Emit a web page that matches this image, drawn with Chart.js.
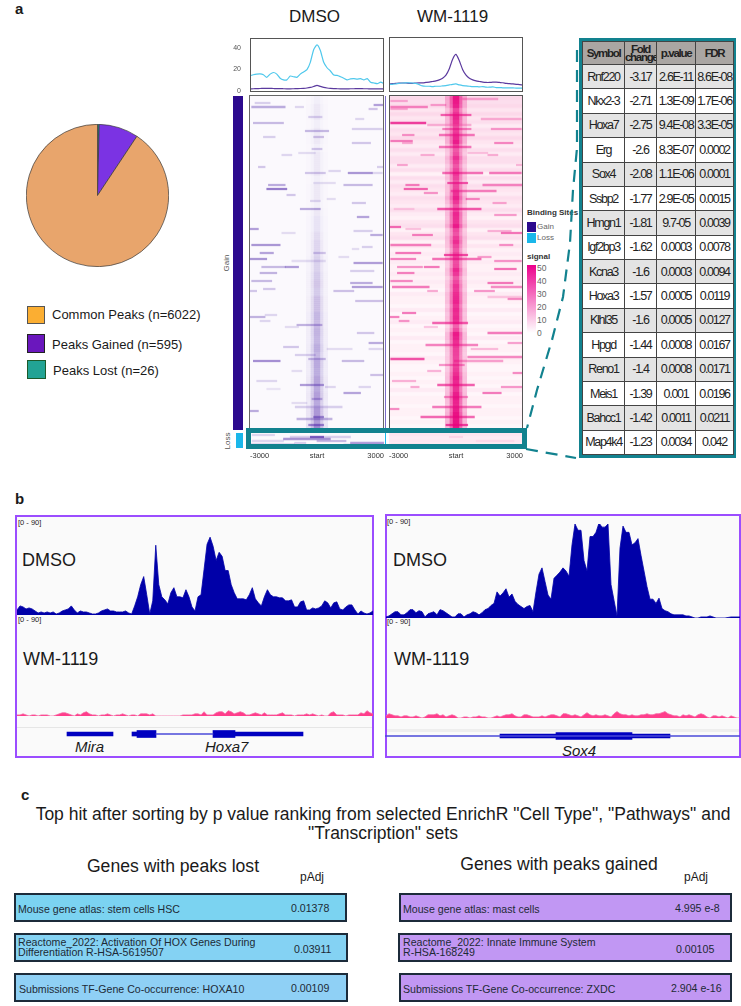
<!DOCTYPE html>
<html>
<head>
<meta charset="utf-8">
<script src="https://cdn.jsdelivr.net/npm/chart.js@4"></script>
<style>
  html, body { margin: 0; background: #fff; }
  #page { position: relative; width: 741px; height: 1006px; overflow: hidden; font-family: "Liberation Sans", Arial, sans-serif; color: #1a1a1a; }
  #page canvas { position: absolute; }
  .t { position: absolute; white-space: nowrap; line-height: 1; transform: translateY(-50%); }
  .c { transform: translate(-50%, -50%); }
  .box { position: absolute; box-sizing: border-box; }
  .rot { transform: translate(-50%, -50%) rotate(-90deg); color: #555; font-size: 8px; }
  .igv { border: 2px solid #9b4dff; background: #fafafa; }
  .enr { border: 2px solid #1c2b3a; }
  .enr-t { font-size: 10.6px; color: #1d2a35; }
  #peakTable { position: absolute; left: 579px; top: 38px; width: 157px; height: 420px; box-sizing: border-box; border: 3px solid #12828f; }
  #peakTable table { width: 100%; height: 100%; border-collapse: collapse; table-layout: fixed; }
  #peakTable td, #peakTable th { border: 1px solid #444; padding: 0; text-align: center; font-size: 12.5px; letter-spacing: -1.3px; font-weight: normal; color: #222; white-space: nowrap; overflow: hidden; }
  #peakTable th { background: #aaa6a3; font-weight: bold; font-size: 11.5px; line-height: 8px; }
  #peakTable tr.g td { background: #e4e4e4; }
</style>
</head>
<body>
<div id="page">
  <div class="t" style="left:15px;top:8px;font-size:15px;font-weight:bold">a</div>
  <div class="t" style="left:15px;top:498px;font-size:15px;font-weight:bold">b</div>
  <div class="t" style="left:21px;top:794px;font-size:15px;font-weight:bold">c</div>

  <div class="t" style="left:289px;top:16px;font-size:17px">DMSO</div>
  <div class="t" style="left:417px;top:16px;font-size:17px">WM-1119</div>

  <div class="box" style="left:27px;top:306px;width:18px;height:18px;background:#fbae32;border:1.5px solid #555"></div>
  <div class="t" style="left:52px;top:314px;font-size:13px">Common Peaks (n=6022)</div>
  <div class="box" style="left:27px;top:334px;width:18px;height:19px;background:#6a17bd;border:1.5px solid #222"></div>
  <div class="t" style="left:52px;top:344px;font-size:13px">Peaks Gained (n=595)</div>
  <div class="box" style="left:27px;top:360px;width:19px;height:19px;background:#22a394;border:1.5px solid #1c5a2a"></div>
  <div class="t" style="left:53px;top:370px;font-size:13px">Peaks Lost (n=26)</div>

  <div class="box" style="left:233px;top:96px;width:10px;height:334px;background:#2c0a8e"></div>
  <div class="box" style="left:236px;top:433px;width:7px;height:15px;background:#1ab7ea"></div>
  <div class="t rot" style="left:227px;top:263px">Gain</div>
  <div class="t rot" style="left:228px;top:441px">Loss</div>

  <div class="t" style="left:527px;top:213px;font-size:8px;font-weight:bold;color:#333">Binding Sites</div>
  <div class="box" style="left:527px;top:222px;width:9px;height:10px;background:#2c0a8e"></div>
  <div class="box" style="left:527px;top:233px;width:9px;height:10px;background:#1ab7ea"></div>
  <div class="t" style="left:537px;top:227px;font-size:8px;color:#666">Gain</div>
  <div class="t" style="left:537px;top:238px;font-size:8px;color:#666">Loss</div>
  <div class="t" style="left:527px;top:257px;font-size:8px;font-weight:bold;color:#333">signal</div>
  <div class="box" style="left:527px;top:265px;width:9px;height:68px;background:linear-gradient(#ec008c,#fff)"></div>
  <div class="t" style="left:537px;top:268px;font-size:8.5px;color:#666">50</div>
  <div class="t" style="left:537px;top:281px;font-size:8.5px;color:#666">40</div>
  <div class="t" style="left:537px;top:294px;font-size:8.5px;color:#666">30</div>
  <div class="t" style="left:537px;top:307px;font-size:8.5px;color:#666">20</div>
  <div class="t" style="left:537px;top:320px;font-size:8.5px;color:#666">10</div>
  <div class="t" style="left:537px;top:333px;font-size:8.5px;color:#666">0</div>

  <div class="box igv" style="left:15px;top:515px;width:359px;height:243px"></div>
  <div class="box igv" style="left:385px;top:514px;width:356px;height:244px"></div>
  <div class="box" style="left:17px;top:727px;width:355px;height:1px;background:#e6e6e6"></div>
  <div class="box" style="left:387px;top:729px;width:352px;height:3px;background:#eeeeee"></div>
  <div class="t" style="left:18px;top:523px;font-size:7.5px">[0 - 90]</div>
  <div class="t" style="left:18px;top:620px;font-size:7.5px">[0 - 90]</div>
  <div class="t" style="left:387px;top:522px;font-size:7.5px">[0 - 90]</div>
  <div class="t" style="left:387px;top:622px;font-size:7.5px">[0 - 90]</div>
  <div class="t" style="left:22px;top:560px;font-size:18px">DMSO</div>
  <div class="t" style="left:23px;top:659px;font-size:18px">WM-1119</div>
  <div class="t" style="left:393px;top:560px;font-size:18px">DMSO</div>
  <div class="t" style="left:394px;top:659px;font-size:18px">WM-1119</div>
  <div class="t" style="left:75px;top:746px;font-size:15px;font-style:italic">Mira</div>
  <div class="t" style="left:205px;top:746px;font-size:15px;font-style:italic">Hoxa7</div>
  <div class="t" style="left:562px;top:750px;font-size:15px;font-style:italic">Sox4</div>

  <div class="t c" style="left:383px;top:815px;font-size:17.5px">Top hit after sorting by p value ranking from selected EnrichR "Cell Type", "Pathways" and</div>
  <div class="t c" style="left:383px;top:834px;font-size:17.5px">"Transcription" sets</div>
  <div class="t c" style="left:173px;top:867px;font-size:17.6px">Genes with peaks lost</div>
  <div class="t c" style="left:559px;top:865px;font-size:17.6px">Genes with peaks gained</div>
  <div class="t" style="left:300px;top:877px;font-size:12px">pAdj</div>
  <div class="t" style="left:684px;top:877px;font-size:12px">pAdj</div>

  <div class="box enr" style="left:14px;top:893px;width:333px;height:29px;background:#7bd3f1"></div>
  <div class="box enr" style="left:14px;top:933px;width:334px;height:29px;background:#84d2f3"></div>
  <div class="box enr" style="left:14px;top:973px;width:334px;height:29px;background:#8fd0f5"></div>
  <div class="box enr" style="left:399px;top:893px;width:333px;height:29px;background:#c197f3"></div>
  <div class="box enr" style="left:398px;top:933px;width:334px;height:29px;background:#c197f3"></div>
  <div class="box enr" style="left:399px;top:973px;width:333px;height:29px;background:#c197f3"></div>
  <div class="t enr-t" style="left:18px;top:909px">Mouse gene atlas: stem cells HSC</div>
  <div class="t enr-t" style="left:18px;top:942px">Reactome_2022: Activation Of HOX Genes During</div>
  <div class="t enr-t" style="left:18px;top:952px">Differentiation R-HSA-5619507</div>
  <div class="t enr-t" style="left:19px;top:989px">Submissions TF-Gene Co-occurrence: HOXA10</div>
  <div class="t enr-t" style="left:291px;top:908px">0.01378</div>
  <div class="t enr-t" style="left:294px;top:949px">0.03911</div>
  <div class="t enr-t" style="left:291px;top:988px">0.00109</div>
  <div class="t enr-t" style="left:403px;top:909px">Mouse gene atlas: mast cells</div>
  <div class="t enr-t" style="left:403px;top:942px">Reactome_2022: Innate Immune System</div>
  <div class="t enr-t" style="left:403px;top:952px">R-HSA-168249</div>
  <div class="t enr-t" style="left:403px;top:989px">Submissions TF-Gene Co-occurrence: ZXDC</div>
  <div class="t enr-t" style="left:675px;top:908px">4.995 e-8</div>
  <div class="t enr-t" style="left:676px;top:949px">0.00105</div>
  <div class="t enr-t" style="left:671px;top:988px">2.904 e-16</div>

  <div id="peakTable"></div>
</div>

<script>
// pie (panel a)
const pieLabels = ['Peaks Lost', 'Peaks Gained', 'Common Peaks'];
const pieValues = [26, 595, 6022];

// average signal profiles, -3000..3000 bp in 150 bp steps
const profilePos = [-3000,-2850,-2700,-2550,-2400,-2250,-2100,-1950,-1800,-1650,-1500,-1350,-1200,-1050,-900,-750,-600,-450,-300,-150,0,150,300,450,600,750,900,1050,1200,1350,1500,1650,1800,1950,2100,2250,2400,2550,2700,2850,3000];
const dmsoLoss = [14.1,15,15.6,15.9,15,12.6,15.6,17.1,15.6,11.8,10.3,10.3,13.8,13.2,12.6,15.6,17.6,19.7,26.5,38.2,42.6,37.4,26.5,21.5,18.5,14.7,14.4,13.2,11.8,10.3,11.2,11.5,10.9,11.5,10.3,11.5,8.2,7.4,6.8,8.2,6.8];
const dmsoGain = [2,2.1,2.2,2.3,2.4,2.5,2.4,2.3,2.2,2.2,2.1,2,2,2.1,2.2,2.3,2.5,2.8,3.3,4.2,5.2,4.3,3.4,2.8,2.4,2.2,2.1,2,2,2,2.1,2.1,2.2,2.2,2.1,2.1,2,2,2,2,2];
const wmGain = [6.5,6.8,7.1,7.4,7.4,7.4,7.1,7.1,7.4,7.6,7.6,7.9,8.2,8.8,9.4,10.3,11.8,14.7,20.6,29.4,33.8,27.9,19.7,14.7,11.8,10.3,9.4,8.8,8.2,7.9,7.9,8.2,8.2,7.9,7.6,7.1,6.8,6.5,6.2,5.9,5.6];
const wmLoss = [5.9,6.2,6.5,7.1,7.4,7.6,7.6,7.4,7.1,5.9,4.7,4.4,4.4,4.1,4.4,4.4,4.7,5,5.6,6.2,6.5,5.6,5,4.7,4.4,4.1,4.1,3.8,4.1,3.5,3.5,3.8,3.2,3.2,2.9,2.9,2.9,2.9,2.6,2.6,2.6];

// heatmap streaks: [row, from bp, to bp, signal]; rows run top to bottom
const dmsoStreaks = [
  [3,-2775,-2100,12],[5,-2925,-1425,22],[5,-975,-600,10],[4,2550,3000,25],[6,2325,2700,15],[11,1725,2100,10],[10,-375,225,12],
  [13,-2850,-1500,18],[16,1575,2925,12],[17,-525,525,18],[20,-2400,-1875,12],[20,-150,300,15],[23,1575,2400,14],[26,-225,225,14],
  [29,-1575,-1125,10],[28,-825,-75,8],[35,-2625,-2325,14],[35,2700,3000,12],[38,1395,2475,28],[38,-525,375,14],[38,2475,2925,10],
  [37,525,1050,10],[44,-2175,-1425,22],[44,1200,2475,18],[43,-150,825,8],[46,-2250,-1350,35],[49,-1350,-975,14],[52,-300,150,10],
  [53,1575,2175,14],[56,-750,150,22],[51,450,825,8],[60,1800,2325,24],[66,-3000,-2625,25],[67,1650,2475,12],[69,2400,2925,22],
  [68,-1575,-975,8],[74,-2925,-1650,28],[75,2025,2475,12],[76,1575,1875,8],[78,-2550,-1950,24],[78,-150,375,14],[81,-3000,-2250,28],
  [82,-1125,375,8],[83,1650,2925,26],[80,975,1425,8],[85,-2475,-1425,18],[85,-1425,-825,26],[88,-2550,-1800,20],[87,1500,2550,12],
  [92,-2925,-2025,18],[93,1500,2475,22],[95,1575,2925,26],[96,-2400,-1875,14],[97,-3000,-2700,14],[97,750,1650,16],[102,1725,3000,16],
  [109,-2325,-1800,10],[110,-3000,-2325,20],[112,-2550,-2100,10],[114,-900,225,20],[115,-1425,-825,8],[118,1800,2550,14],
  [123,2325,3000,22],[125,-1500,-825,14],[126,450,1575,8],[126,2325,3000,10],[129,-975,-75,12],[132,-2850,-1650,30],[132,1125,2100,18],
  [131,-375,375,18],[137,-1125,-675,8],[139,2400,3000,16],[142,-2700,-1800,10],[144,-750,300,26],[145,375,825,10],[145,1875,2400,10],
  [148,1200,1950,24],[146,-2250,-1650,6],[151,-225,225,18],[153,-1125,-450,8],[155,-975,1125,12],[157,-3000,-2625,22],[161,-900,675,20],
  [160,-150,300,28],[164,-375,300,30],
  // loss group
  [169,-2900,-1900,10],[170,-1200,1500,12],[170,-300,300,40],[171,-1500,600,28],[172,0,1300,18],[172,-2900,-1500,10],[173,-1000,-500,12],
  [173,1500,3000,25],[174,-2950,-1000,35],[174,1200,3000,20],[175,-2900,-2200,30]
];
const wmStreaks = [
  [2,-2925,-2175,14],[5,-2925,-1275,22],[4,-1125,-450,16],[6,-2925,-2175,14],[1,300,1875,14],[9,-675,675,30],[11,1125,2925,14],
  [13,-2925,-1350,38],[14,-1275,675,14],[16,1575,2925,18],[16,-600,675,22],[19,-2400,-1875,20],[19,-750,825,26],[22,-2925,-1950,24],
  [23,-2400,-1950,14],[23,1725,2550,22],[25,-750,675,26],[28,525,1425,10],[29,-1575,-975,14],[29,1425,1875,14],[34,-2625,-2175,16],
  [34,2700,3000,12],[38,1500,2925,26],[38,-600,1200,28],[43,-375,525,32],[44,1200,3000,22],[44,-2250,-1650,24],[46,-2325,-1275,30],
  [47,-225,1800,24],[48,-1425,-825,20],[51,450,1050,22],[53,1650,2250,16],[56,-825,1125,32],[59,1725,2700,18],[56,-2775,-1875,8],
  [65,-2955,-2475,28],[66,-2250,-1575,10],[69,-1950,-1050,24],[67,1425,2475,14],[68,2025,3000,26],[74,-2925,-1125,24],[74,1950,2550,20],
  [78,-2700,-1575,26],[79,-525,525,34],[81,-2925,-1800,24],[81,-1050,1125,28],[80,975,1575,18],[82,1725,2925,20],
  [85,-2625,-1500,20],[85,-1425,-750,26],[88,-2625,-1875,24],[86,1725,2700,28],[92,-2925,-1950,22],[93,1425,2550,26],[95,1575,3000,22],
  [95,-2850,-1200,26],[97,-1275,-825,16],[97,825,1725,20],[100,1425,3000,10],[101,2325,3000,22],[108,-2400,-1800,26],[110,-2955,-2550,24],
  [112,-2550,-2100,20],[113,-1050,525,30],[115,-1425,-825,10],[118,1425,3000,26],[123,2325,3000,18],[124,-1350,975,24],[126,675,1875,12],
  [130,525,3000,22],[131,-2925,-1425,34],[132,-75,2100,18],[134,-750,375,20],[137,-1275,-675,14],[138,2550,3000,22],[142,-2850,-1800,14],
  [144,-825,825,32],[145,2025,3000,20],[145,-2025,-1650,16],[148,1200,2025,26],[150,-525,525,20],[155,-1050,1125,26],[156,-2955,-2550,22],
  [160,-1575,825,30],[164,-450,525,36],
  // loss group
  [170,-300,300,5],[174,-2900,-1200,8],[172,900,2600,3]
];
// signal at the peak centre, 4 px blocks down the gain group
const wmCore = [48,46,42,30,34,40,36,28,32,34,38,44,30,24,28,36,30,26,30,34,30,26,28,30,36,42,34,26,30,40,38,36,44,30,26,32,38,30,26,30,32,28,30,40,34,26,30,36,34,38,40,42,36,40,38,40,36,24,30,46,42,38,34,32,32,30,30,32,34,38,44,40,38,36,44,46,42,40,44,50,48,50,50];
const dmsoCore = [2,3,3,2,3,3,2,3,3,3,2,3,3,2,3,4,4,5,6,6,7,7,8,9,8,10,10,12,11,13,12,14,12,15,14,16,15,17,15,19,18,22];
// pale wash behind the WM-1119 rows, 4 px blocks
const wmWash = [5,4,5,3,5,3,4,2,4,3,5,3,2,4,2,4,4,2,4,1,4,2,4,3,2,4,3,2,4,2,1,3,4,1,3,4,1,3,1,2,1,2,1,1,2,1,2,1,0,2,1,1,0,2,0,1,2,0,1,0,2,0,1,1,0,2,1,0,0,1,0,1,0,2,0,1,1,0,1,1,0,1,0];
const wmLossWash = [3,3,2,2,3,2,3,2];

// browser tracks, one bin about every 3 px, track height 0-90
const miraDmso = [5,9,8,6,7,6,4,2,3,2,3,2,3,1,2,4,5,6,9,5,2,4,3,3,2,1,1,2,4,5,6,4,4,3,3,3,4,2,1,9,18,30,38,20,1,14,69,30,18,15,11,22,27,18,18,17,25,18,8,4,18,20,45,70,77,68,54,62,58,44,44,30,22,16,16,16,15,20,27,16,12,9,18,25,20,18,18,17,17,14,14,15,8,8,13,14,5,5,7,6,7,9,14,12,7,12,13,6,5,8,10,10,5,1,4,2,1,2,4];
const miraWm = [1,1,2,1,0,1,1,0,1,1,1,0,0,1,2,3,3,2,1,0,2,1,3,4,2,1,1,0,1,1,2,1,0,1,1,2,1,0,1,1,0,2,2,2,1,2,0,0,0,0,0,0,0,0,0,1,1,1,1,2,2,1,4,1,1,1,3,4,4,2,5,4,2,3,4,3,1,1,2,3,2,1,3,1,1,1,1,2,3,1,1,1,0,1,1,1,2,1,2,1,0,1,0,0,3,4,1,1,1,0,1,1,1,1,3,2,5,3,2];
const sox4Dmso = [1,2,4,6,6,3,3,5,8,8,5,7,6,1,4,5,6,3,8,7,5,3,1,1,4,4,1,3,4,6,5,3,5,8,9,12,14,25,21,24,28,20,23,16,13,11,9,11,12,6,25,42,48,35,22,18,38,41,44,48,45,40,70,90,84,84,55,45,78,78,82,91,87,87,90,32,17,2,67,88,82,82,70,72,76,60,45,30,18,18,14,19,9,7,6,4,3,3,3,3,2,2,1,0,0,1,1,1,2,1,0,0,0,0,0.5,1,1,1,1];
const sox4Wm = [2,4,3,2,2,1,2,2,1,1,2,1,0,1,3,3,3,4,2,3,1,2,3,2,0,0,1,1,0,1,1,2,1,1,0,0,1,2,1,2,3,3,4,2,1,1,3,3,2,1,1,1,2,1,2,3,3,2,1,4,4,3,2,3,2,1,3,5,3,2,3,2,2,3,2,1,4,6,4,3,3,2,3,2,2,3,3,4,3,3,4,4,5,6,4,3,2,2,1,3,2,3,2,1,3,4,3,1,0,2,2,1,2,1,0,2,1,0,0];

// gene models: [from, to] along each track window
const miraHoxaThick = [[122,141],[198,220]];
const miraHoxaMedium = [[52,98],[117,122],[220,288]];
const miraHoxaThin = [[141,198]];
const sox4Thick = [[171,247]];
const sox4Medium = [[115,171],[247,285]];
const sox4Thin = [[0,355]];

// table next to the heatmap
const tableHeader = ['Symbol', 'Fold<br>change', 'p.value', 'FDR'];
const symbols = ['Rnf220','Nkx2-3','Hoxa7','Erg','Sox4','Ssbp2','Hmgn1','Igf2bp3','Kcna3','Hoxa3','Klhl35','Hpgd','Reno1','Meis1','Bahcc1','Map4k4'];
const foldChange = ['-3.17','-2.71','-2.75','-2.6','-2.08','-1.77','-1.81','-1.62','-1.6','-1.57','-1.6','-1.44','-1.4','-1.39','-1.42','-1.23'];
const pValue = ['2.6E-11','1.3E-09','9.4E-08','8.3E-07','1.1E-06','2.9E-05','9.7-05','0.0003','0.0003','0.0005','0.0005','0.0008','0.0008','0.001','0.0011','0.0034'];
const fdr = ['8.6E-08','1.7E-06','3.3E-05','0.0002','0.0001','0.0015','0.0039','0.0078','0.0094','0.0119','0.0127','0.0167','0.0171','0.0196','0.0211','0.042'];

const page = document.getElementById('page');
const noLegend = { legend: { display: false }, tooltip: { enabled: false } };

function addChart(x, y, w, h, config) {
    const canvas = document.createElement('canvas');
    canvas.width = w;
    canvas.height = h;
    canvas.style.left = x + 'px';
    canvas.style.top = y + 'px';
    page.appendChild(canvas);
    config.options = Object.assign({ responsive: false, animation: false, plugins: noLegend }, config.options);
    return new Chart(canvas.getContext('2d'), config);
}

function addBox(x, y, w, h, style) {
    const d = document.createElement('div');
    d.className = 'box';
    d.style.cssText = `left:${x}px;top:${y}px;width:${w}px;height:${h}px;${style}`;
    page.appendChild(d);
}

// Pie
addChart(26, 124, 143, 143, {
    type: 'pie',
    data: {
        labels: pieLabels,
        datasets: [{
            data: pieValues,
            backgroundColor: ['#1f8e80', '#7b33e3', '#e8a56c'],
            borderColor: '#3a3a3a',
            borderWidth: 0.7
        }]
    }
});

// Profile plots above the heatmaps
function profileChart(x, axisW, w, series, showLabels) {
    addChart(x - axisW, 32, w + axisW, 65, {
        type: 'line',
        data: {
            labels: profilePos,
            datasets: series.map(s => ({
                data: s.values,
                borderColor: s.color,
                borderWidth: 1.2,
                pointRadius: 0,
                tension: 0.2
            }))
        },
        options: {
            layout: { padding: { top: 6, bottom: 6 } },
            scales: {
                x: { display: false },
                y: {
                    min: 0,
                    max: 49,
                    afterFit: s => { s.width = axisW; },
                    afterBuildTicks: s => { s.ticks = [{ value: 0 }, { value: 20 }, { value: 40 }]; },
                    grid: { display: false },
                    border: { display: false },
                    ticks: {
                        padding: 1,
                        color: '#555',
                        font: { size: 7 },
                        callback: v => showLabels ? v : ''
                    }
                }
            }
        }
    });
}
profileChart(250, 18, 134, [
    { values: dmsoLoss, color: '#4fc8ec' },
    { values: dmsoGain, color: '#5b3a9e' }
], true);
profileChart(389, 5, 134, [
    { values: wmLoss, color: '#4fc8ec' },
    { values: wmGain, color: '#5b3a9e' }
], false);

// Heatmaps: floating bars on row/bp scales
function streakBars(streaks) {
    return streaks.map(s => ({ y: s[0], x: [s[1], s[2]], signal: s[3] }));
}
function coreBars(core, rowsPerBlock) {
    const bars = [];
    core.forEach((v, i) => {
        for (let r = 0; r < rowsPerBlock; r++) {
            const y = i * rowsPerBlock + r;
            bars.push({ y: y, x: [-480, 480], signal: v * 0.25 });
            bars.push({ y: y, x: [-270, 270], signal: v * 0.45 });
            bars.push({ y: y, x: [-130, 130], signal: v * 0.85 });
        }
    });
    return bars;
}
function washBars(wash, firstRow, rowsPerBlock) {
    const bars = [];
    wash.forEach((v, i) => {
        for (let r = 0; r < rowsPerBlock; r++) {
            bars.push({ y: firstRow + i * rowsPerBlock + r, x: [-3000, 3000], signal: v });
        }
    });
    return bars;
}
function heatChart(x, bars, rgb, maxSignal, background) {
    const chart = addChart(x, 96, 134, 368, {
        type: 'bar',
        data: {
            datasets: [{
                data: bars,
                barThickness: 1.6,
                borderWidth: 0,
                backgroundColor: c => `rgba(${rgb},${Math.min(c.raw.signal / maxSignal, 1)})`
            }]
        },
        options: {
            indexAxis: 'y',
            scales: {
                x: {
                    type: 'linear',
                    min: -3000,
                    max: 3000,
                    afterBuildTicks: s => { s.ticks = [{ value: -3000 }, { value: 0 }, { value: 3000 }]; },
                    afterFit: s => { s.height = 16; s.paddingLeft = 0; s.paddingRight = 0; },
                    grid: { display: false, drawTicks: false },
                    border: { display: false },
                    ticks: {
                        align: 'inner',
                        maxRotation: 0,
                        padding: 3,
                        color: '#333',
                        font: { size: 7.5 },
                        callback: v => v === 0 ? 'start' : String(v)
                    }
                },
                y: { type: 'linear', min: -0.5, max: 175.5, offset: false, reverse: true, display: false }
            }
        }
    });
    chart.canvas.style.background = `linear-gradient(${background} 352px, #fff 352px)`;
    chart.canvas.style.filter = 'blur(0.6px)';
    return chart;
}
heatChart(250, coreBars(dmsoCore, 4).concat(streakBars(dmsoStreaks)), '72,30,165', 62, '#fbf9fd');
heatChart(389, washBars(wmWash, 0, 2).concat(washBars(wmLossWash, 168, 1), coreBars(wmCore, 2), streakBars(wmStreaks)), '232,0,125', 52, '#fff6fa');

// Panel frames on top of the charts
addBox(250, 38, 134, 54, 'border:1.5px solid #555');
addBox(389, 37, 134, 55, 'border:1.5px solid #555');
addBox(249, 95, 135, 334, 'border:1.5px solid #666');
addBox(389, 95, 134, 334, 'border:1.5px solid #555');
addBox(385, 96, 1, 333, 'background:#7b6bc8');
addBox(385, 432, 1, 16, 'background:#1ab7ea');
addBox(246, 428, 281, 21, 'border:5px solid #12828f');

// Browser tracks
function trackChart(x, y, w, h, values, fill, line) {
    addChart(x, y, w, h, {
        type: 'line',
        data: {
            labels: values.map((v, i) => i),
            datasets: [{
                data: values,
                borderColor: line,
                backgroundColor: fill,
                borderWidth: 0.8,
                pointRadius: 0,
                tension: 0,
                fill: 'origin'
            }]
        },
        options: {
            scales: {
                x: { display: false },
                y: { display: false, min: 0, max: 90 }
            }
        }
    });
}
trackChart(17, 524, 356, 91, miraDmso, '#0000a8', '#0000a8');
trackChart(386, 524, 354, 94, sox4Dmso, '#0000a8', '#0000a8');
trackChart(17, 620, 356, 96, miraWm, '#ff3d8b', '#f56aa5');
trackChart(386, 622, 354, 96, sox4Wm, '#ff3d8b', '#f56aa5');

// Gene models
function geneChart(x, y, w, thick, medium, thin) {
    const toBars = list => list.map(g => ({ x: g, y: 0 }));
    const sets = [
        { data: toBars(thin), barThickness: 1, backgroundColor: '#4a4ad8' },
        { data: toBars(medium), barThickness: 4, backgroundColor: '#0000c0' },
        { data: toBars(thick), barThickness: 7, backgroundColor: '#0000c0' }
    ];
    sets.forEach(s => { s.grouped = false; s.borderWidth = 0; });
    addChart(x, y, w, 12, {
        type: 'bar',
        data: { datasets: sets },
        options: {
            indexAxis: 'y',
            scales: {
                x: { type: 'linear', display: false, min: 0, max: w },
                y: { type: 'linear', display: false, min: -0.5, max: 0.5, offset: false }
            }
        }
    });
}
geneChart(15, 728, 358, miraHoxaThick, miraHoxaMedium, miraHoxaThin);
geneChart(385, 730, 355, sox4Thick, sox4Medium, sox4Thin);

// Table
let rows = '<tr style="height:23px">' + tableHeader.map(h => `<th>${h}</th>`).join('') + '</tr>';
symbols.forEach((s, i) => {
    rows += `<tr class="${i % 2 === 0 ? 'g' : ''}"><td>${s}</td><td>${foldChange[i]}</td><td>${pValue[i]}</td><td>${fdr[i]}</td></tr>`;
});
document.getElementById('peakTable').innerHTML =
    '<table><colgroup><col style="width:42px"><col style="width:32px"><col style="width:39px"><col style="width:38px"></colgroup>' + rows + '</table>';

// Dashed connectors from the loss box to the table
page.insertAdjacentHTML('beforeend',
    '<svg width="741" height="1006" style="position:absolute;left:0;top:0;pointer-events:none">' +
    '<path d="M577 50 L577 148 L573 190 L570 243 L563 297 L552 340 L537 390 L527 428" fill="none" stroke="#12828f" stroke-width="2.2" stroke-dasharray="12 8"/>' +
    '<path d="M526 449 L576 458" fill="none" stroke="#12828f" stroke-width="2.2" stroke-dasharray="12 8"/>' +
    '</svg>');
</script>
</body>
</html>
